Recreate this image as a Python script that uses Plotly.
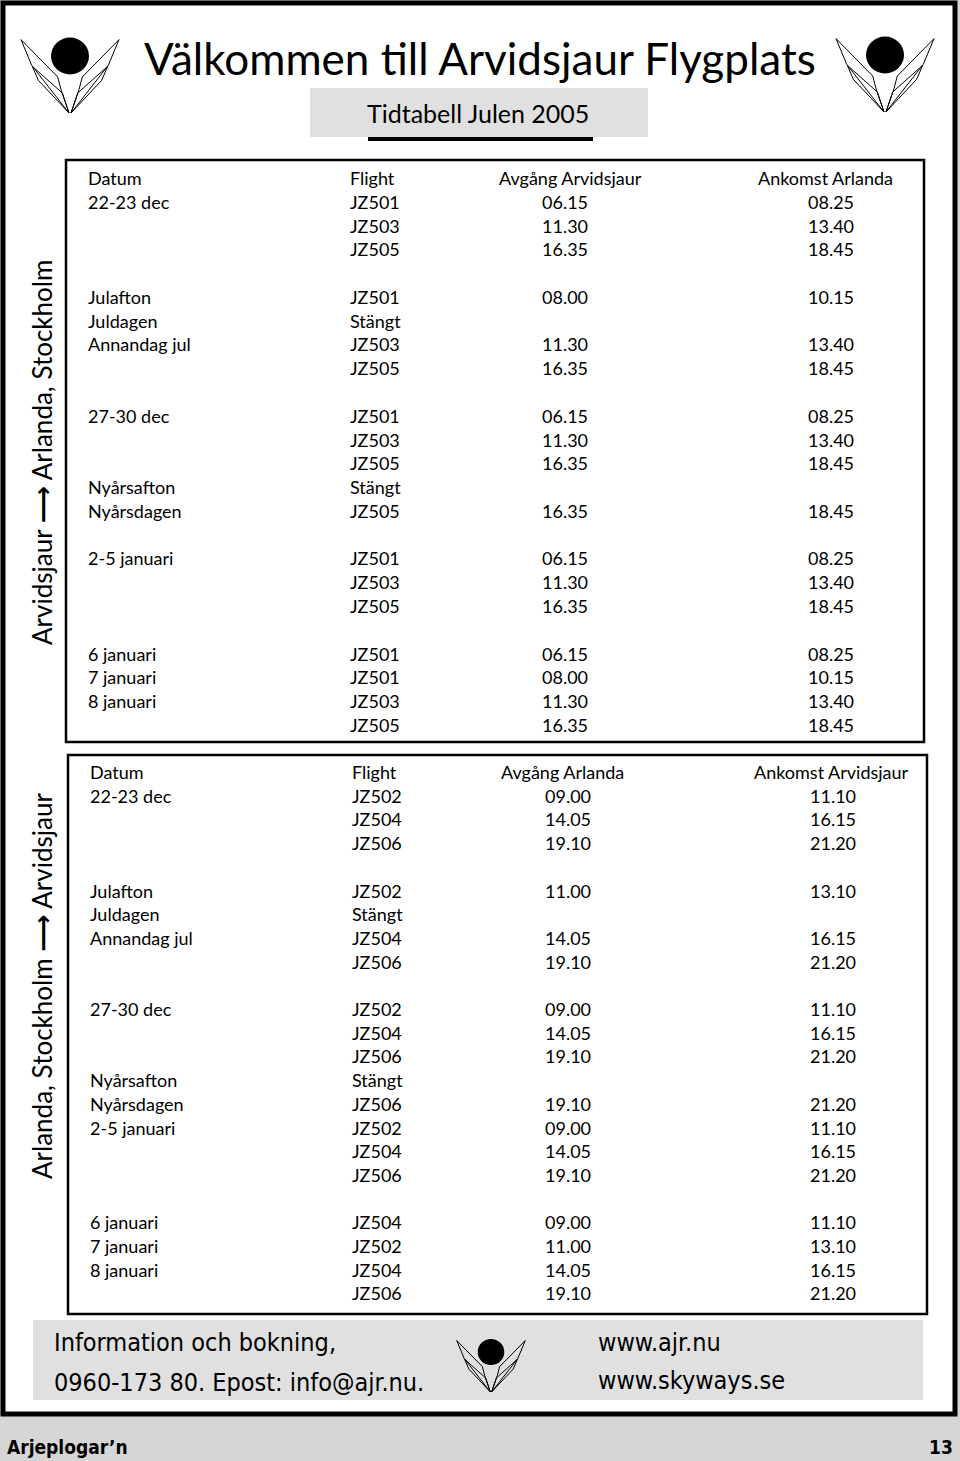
import plotly.graph_objects as go

# ---------------- data ----------------
title_text = "Välkommen till Arvidsjaur Flygplats"
subtitle_text = "Tidtabell Julen 2005"

ARROW = "<span style=\"font-family:'DejaVu Sans';font-weight:bold\">⟶</span>"
out_label = "Arvidsjaur " + ARROW + " Arlanda, Stockholm"
out_header = ["Datum", "Flight", "Avgång Arvidsjaur", "Ankomst Arlanda"]
out_dates = ["22-23 dec", "", "", "", "Julafton", "Juldagen", "Annandag jul", "", "",
             "27-30 dec", "", "", "Nyårsafton", "Nyårsdagen", "",
             "2-5 januari", "", "", "", "6 januari", "7 januari", "8 januari", ""]
out_flights = ["JZ501", "JZ503", "JZ505", "", "JZ501", "Stängt", "JZ503", "JZ505", "",
               "JZ501", "JZ503", "JZ505", "Stängt", "JZ505", "",
               "JZ501", "JZ503", "JZ505", "", "JZ501", "JZ501", "JZ503", "JZ505"]
out_dep = ["06.15", "11.30", "16.35", "", "08.00", "", "11.30", "16.35", "",
           "06.15", "11.30", "16.35", "", "16.35", "",
           "06.15", "11.30", "16.35", "", "06.15", "08.00", "11.30", "16.35"]
out_arr = ["08.25", "13.40", "18.45", "", "10.15", "", "13.40", "18.45", "",
           "08.25", "13.40", "18.45", "", "18.45", "",
           "08.25", "13.40", "18.45", "", "08.25", "10.15", "13.40", "18.45"]

in_label = "Arlanda, Stockholm " + ARROW + " Arvidsjaur"
in_header = ["Datum", "Flight", "Avgång Arlanda", "Ankomst Arvidsjaur"]
in_dates = ["22-23 dec", "", "", "", "Julafton", "Juldagen", "Annandag jul", "", "",
            "27-30 dec", "", "", "Nyårsafton", "Nyårsdagen", "2-5 januari", "", "", "",
            "6 januari", "7 januari", "8 januari", ""]
in_flights = ["JZ502", "JZ504", "JZ506", "", "JZ502", "Stängt", "JZ504", "JZ506", "",
              "JZ502", "JZ504", "JZ506", "Stängt", "JZ506", "JZ502", "JZ504", "JZ506", "",
              "JZ504", "JZ502", "JZ504", "JZ506"]
in_dep = ["09.00", "14.05", "19.10", "", "11.00", "", "14.05", "19.10", "",
          "09.00", "14.05", "19.10", "", "19.10", "09.00", "14.05", "19.10", "",
          "09.00", "11.00", "14.05", "19.10"]
in_arr = ["11.10", "16.15", "21.20", "", "13.10", "", "16.15", "21.20", "",
          "11.10", "16.15", "21.20", "", "21.20", "11.10", "16.15", "21.20", "",
          "11.10", "13.10", "16.15", "21.20"]

footer_left = ["Information och bokning,", "0960-173 80. Epost: info@ajr.nu."]
footer_right = ["www.ajr.nu", "www.skyways.se"]
page_name = "Arjeplogar’n"
page_number = "13"

# ---------------- style ----------------
W, H = 960, 1461
FONT = "Lato, 'Open Sans', sans-serif"
NARROW = "'Liberation Sans Narrow', 'DejaVu Sans Condensed', sans-serif"
TXT = 18
GRAY = "#e0e0e0"
PAGE_GRAY = "#d6d6d6"

fig = go.Figure()
shapes = []
ann = []


def text(x, y, s, size=TXT, anchor="left", family=FONT, angle=0, weight="normal"):
    if s == "":
        return
    ann.append(dict(x=x, y=y, xref="x", yref="y", text=s, showarrow=False,
                    xanchor=anchor, yanchor="middle", textangle=angle,
                    font=dict(family=family, size=size, color="black", weight=weight)))


# page background: white bordered sheet
shapes.append(dict(type="rect", x0=3, y0=3, x1=955, y1=1414, fillcolor="white",
                   line=dict(color="black", width=5), layer="below"))

# title
text(480, 58, title_text, size=44, anchor="center")
shapes.append(dict(type="rect", x0=310, y0=88, x1=648, y1=137, fillcolor=GRAY,
                   line=dict(width=0), layer="below"))
text(478, 113, subtitle_text, size=25, anchor="center")
shapes.append(dict(type="line", x0=368, y0=139, x1=593, y1=139,
                   line=dict(color="black", width=4)))


# logos
def logo(cx, cy, s):
    shapes.append(dict(type="circle", x0=cx - 19 * s, y0=cy - 18.5 * s,
                       x1=cx + 19 * s, y1=cy + 18.5 * s, fillcolor="black",
                       line=dict(width=0)))
    feathers = [[(-49, -16.4), (-12.3, 21), (-9, 33.6), (-1, 57), (-38.3, 9.3)],
                [(-37.7, 10.3), (-7.7, 37), (-1, 57), (-31.7, 24.3)]]
    for f in feathers:
        for sign in (1, -1):
            pts = [(cx + sign * dx * s, cy + dy * s) for dx, dy in f]
            path = "M " + " L ".join(f"{px:.1f},{py:.1f}" for px, py in pts) + " Z"
            shapes.append(dict(type="path", path=path,
                               line=dict(color="black", width=1)))


logo(70, 56, 1.0)
logo(885, 55, 1.0)


# tables
def table(box, y0, step, xcols, header, dates, flights, dep, arr, label, label_y):
    shapes.append(dict(type="rect", x0=box[0], y0=box[1], x1=box[2], y1=box[3],
                       line=dict(color="black", width=2.5)))
    xd, xf, xh2, xv2, xh3, xv3 = xcols
    text(xd, y0, header[0])
    text(xf, y0, header[1])
    text(xh2, y0, header[2], anchor="center")
    text(xh3, y0, header[3], anchor="center")
    for i in range(len(dates)):
        y = y0 + (i + 1) * step
        text(xd, y, dates[i])
        text(xf, y, flights[i])
        text(xv2, y, dep[i], anchor="center")
        text(xv3, y, arr[i], anchor="center")
    text(42, label_y, label, size=26, anchor="center", angle=-90)


table((66, 160, 924, 742), 178, 23.78, (86, 348, 570, 565, 825, 831),
      out_header, out_dates, out_flights, out_dep, out_arr, out_label, 453)
table((68, 755, 927, 1314), 772, 23.7, (88, 350, 562, 568, 831, 833),
      in_header, in_dates, in_flights, in_dep, in_arr, in_label, 986)

# footer box
shapes.append(dict(type="rect", x0=33, y0=1320, x1=923, y1=1400, fillcolor=GRAY,
                   line=dict(width=0), layer="below"))
text(52, 1342, footer_left[0], size=25, family=NARROW)
text(52, 1382, footer_left[1], size=25, family=NARROW)
text(596, 1342, footer_right[0], size=25, family=NARROW)
text(596, 1380, footer_right[1], size=25, family=NARROW)
logo(491, 1352, 0.7)

# page strip
text(5, 1447, page_name, size=19, family=NARROW, weight="bold")
text(955, 1447, page_number, size=19, family=NARROW, anchor="right", weight="bold")

fig.update_layout(
    width=W, height=H, margin=dict(l=0, r=0, t=0, b=0),
    paper_bgcolor=PAGE_GRAY, plot_bgcolor=PAGE_GRAY,
    xaxis=dict(range=[0, W], visible=False, fixedrange=True),
    yaxis=dict(range=[H, 0], visible=False, fixedrange=True),
    shapes=shapes, annotations=ann, showlegend=False,
)
fig.write_html("out.html", config={"displayModeBar": False},
               post_script="document.body.style.margin='0';")
